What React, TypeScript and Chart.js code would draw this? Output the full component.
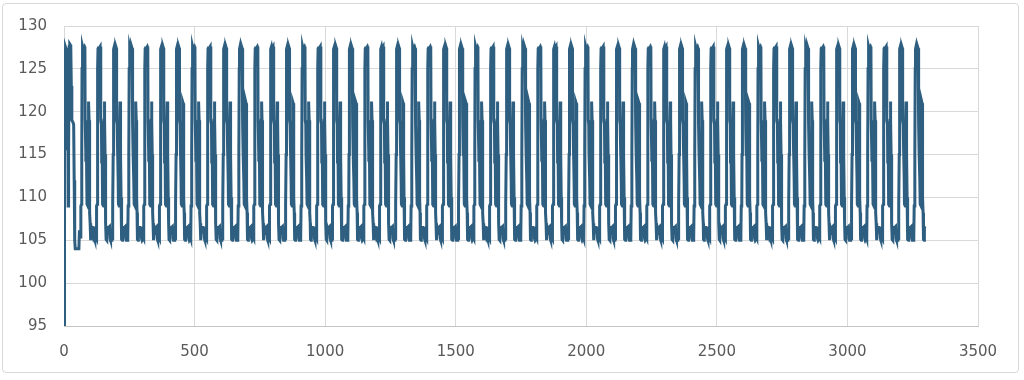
import React, { useEffect, useRef } from "react";
import { Chart, registerables } from "chart.js";

Chart.register(...registerables);

// Opening segment (x, value)
const START_X = [0, 1, 2, 3, 4, 6, 8, 10, 11, 12, 14, 16, 17, 18, 20, 22, 24, 26, 28, 30, 34, 37, 39, 41, 43, 50, 57, 59, 62];
const START_Y = [95, 109, 109, 115, 127.2, 127.5, 127.3, 116, 115.5, 127, 127.5, 109, 109, 115, 127.6, 127.9, 127.8, 127.5, 123, 119, 118.8, 118.5, 112, 105, 104, 104, 104, 106, 106];

// One repeating cycle: offset inside the cycle and value
const CYCLE_U = [0, 1, 3, 4, 5, 6, 8, 10, 12, 14, 16, 17, 19, 20, 22, 23, 24, 27, 28, 29, 30, 31, 32, 33, 34, 35, 36, 37, 39, 40, 43, 45, 47, 50, 52, 54, 57, 59];
const CYCLE_Y = [105.2, 109, 109.2, 115, 125, 127.3, 127.6, 127.2, 127.5, 127.6, 127.4, 119, 118.5, 115, 115.2, 112, 109.2, 109, 115, 119, 121.2, 121, 119, 115, 110, 108.2, 107, 105.1, 105, 106.5, 106.5, 105.8, 106.5, 106.6, 105.2, 105, 105, 105.3];
const FIRST_CYCLE_X = 64;
const CYCLE_PERIOD = 60.2;
const CYCLE_COUNT = 54;
const LAST_X = 3297;
const END_X = [3299];
const END_Y = [106.4];

const X_TICKS = [0, 500, 1000, 1500, 2000, 2500, 3000, 3500];
const Y_TICKS = [95, 100, 105, 110, 115, 120, 125, 130];

function buildPoints() {
  const pts: { x: number; y: number }[] = [];
  START_X.forEach((x, i) => pts.push({ x, y: START_Y[i] }));
  for (let c = 0; c < CYCLE_COUNT; c++) {
    const base = FIRST_CYCLE_X + c * CYCLE_PERIOD;
    CYCLE_U.forEach((u, i) => {
      const x = base + (u * CYCLE_PERIOD) / 60;
      if (x <= LAST_X) pts.push({ x, y: CYCLE_Y[i] });
    });
  }
  END_X.forEach((x, i) => pts.push({ x, y: END_Y[i] }));
  return pts;
}

export default function App() {
  const ref = useRef<HTMLCanvasElement | null>(null);
  useEffect(() => {
    if (!ref.current) return;
    const chart = new Chart(ref.current, {
      type: "line",
      data: {
        datasets: [
          {
            data: buildPoints(),
            borderColor: "#2e5f80",
            backgroundColor: "#2e5f80",
            borderWidth: 3,
            pointRadius: 0,
            tension: 0,
            fill: false,
          },
        ],
      },
      options: {
        animation: false,
        responsive: false,
        devicePixelRatio: 1,
        layout: { padding: { top: 25, right: 46, bottom: 0, left: 0 } },
        plugins: { legend: { display: false }, tooltip: { enabled: false } },
        scales: {
          x: {
            type: "linear",
            min: X_TICKS[0],
            max: X_TICKS[X_TICKS.length - 1],
            afterFit: (s: any) => { s.height = 54; },
            afterBuildTicks: (s: any) => { s.ticks = X_TICKS.map((v) => ({ value: v })); },
            grid: { color: "#d9d9d9", lineWidth: 1, drawTicks: false },
            border: { color: "#c4c4c4", width: 1 },
            ticks: {
              padding: 17,
              color: "#595959",
              font: { family: "'DejaVu Sans'", size: 15 },
              maxRotation: 0,
              callback: (v: any) => String(v),
            },
          },
          y: {
            min: Y_TICKS[0],
            max: Y_TICKS[Y_TICKS.length - 1],
            afterFit: (s: any) => { s.width = 64; },
            afterBuildTicks: (s: any) => { s.ticks = Y_TICKS.map((v) => ({ value: v })); },
            grid: { color: "#d9d9d9", lineWidth: 1, drawTicks: false },
            border: { display: false },
            ticks: {
              padding: 17,
              color: "#595959",
              font: { family: "'DejaVu Sans'", size: 15 },
              callback: (v: any) => String(v),
            },
          },
        },
      },
    });
    return () => chart.destroy();
  }, []);
  return (
    <div style={{ position: "fixed", left: 0, top: 0, width: 1024, height: 380, background: "#fff" }}>
      <div
        style={{
          position: "absolute",
          left: 2,
          top: 3,
          width: 1015,
          height: 368,
          border: "1px solid #d9d9d9",
          borderRadius: 4,
        }}
      />
      <canvas ref={ref} width={1024} height={380} style={{ position: "absolute", left: 0, top: 0 }} />
    </div>
  );
}
